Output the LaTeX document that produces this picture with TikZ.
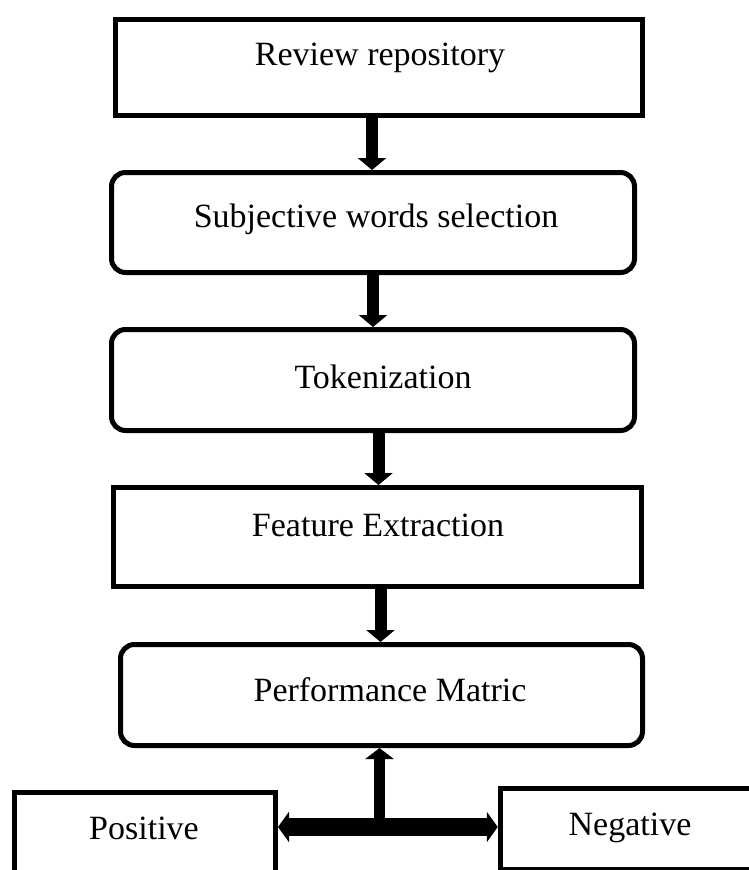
\documentclass[tikz,border=0pt]{standalone}
\usepackage{fontspec}
\setmainfont{Liberation Serif}
\usetikzlibrary{arrows.meta}
\tikzset{
  box/.style={draw=black, line width=5pt, rectangle, inner sep=0pt, fill=white},
  rbox/.style={box, rounded corners=14pt},
  lbl/.style={anchor=base, inner sep=0pt, font=\fontsize{34pt}{40pt}\selectfont},
  arr/.style={line width=12pt, -{Triangle[width=28pt,length=12pt]}},
  arrv/.style={line width=11pt, -{Triangle[width=28pt,length=11pt]}},
  arrh/.style={line width=18pt, {Triangle[width=30pt,length=11pt]}-{Triangle[width=30pt,length=11pt]}}
}
\begin{document}
\begin{tikzpicture}[x=1pt,y=-1pt]
\clip (0,0) rectangle (749,870);
\fill[white] (0,0) rectangle (749,870);
% boxes
\node[box,  minimum width=527pt, minimum height=96pt]  (b1) at (379,67.5) {};
\node[rbox, minimum width=523pt, minimum height=100pt] (b2) at (373,222.5) {};
\node[rbox, minimum width=523pt, minimum height=101pt] (b3) at (373,380) {};
\node[box,  minimum width=528pt, minimum height=99pt]  (b4) at (377.5,537) {};
\node[rbox, minimum width=522pt, minimum height=101pt] (b5) at (381.5,695) {};
\node[box,  minimum width=261pt, minimum height=107.5pt] (pos) at (145,846) {};
\node[box,  minimum width=299.5pt, minimum height=80.5pt] (neg) at (650,828.75) {};
% texts
\node[lbl] (t1) at (380,65)  {Review repository};
\node[lbl] (t2) at (376,227) {Subjective words selection};
\node[lbl] (t3) at (383,388) {Tokenization};
\node[lbl] (t4) at (378,536) {Feature Extraction};
\node[lbl] (t5) at (390,701) {Performance Matric};
\node[lbl] (t6) at (144,839) {Positive};
\node[lbl] (t7) at (630,835) {Negative};
% arrows
\draw[arr] ([xshift=-7pt]b1.south) -- ([xshift=-1pt]b2.north);
\draw[arr] (b2.south) -- (b3.north);
\draw[arr] ([xshift=5.5pt]b3.south) -- ([xshift=1pt]b4.north);
\draw[arr] ([xshift=3pt]b4.south) -- ([xshift=-1pt]b5.north);
\coordinate (j) at (379.5,827);
\draw[arrh] (j -| pos.east) -- (j -| neg.west);
\draw[arrv] (j) -- ([xshift=-2pt]b5.south);
\end{tikzpicture}
\end{document}
